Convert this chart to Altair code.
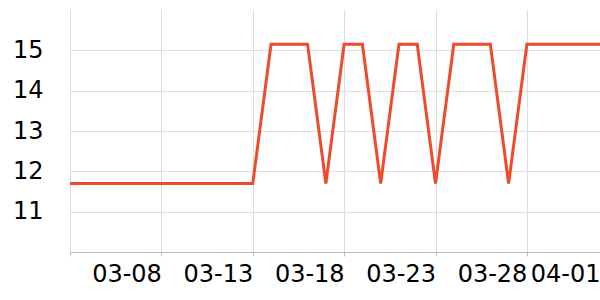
import altair as alt
import pandas as pd

dates = pd.date_range("2020-03-03", "2020-04-01", freq="D").strftime("%Y-%m-%d").tolist()
low, high = 11.7, 15.15
values = [low] * 11 + [high, high, high, low, high, high, low, high, high, low,
                        high, high, high, low] + [high] * 5

tick_dates = ["2020-03-03", "2020-03-08", "2020-03-13", "2020-03-18",
              "2020-03-23", "2020-03-28", "2020-04-01"]
y_ticks = [11, 12, 13, 14, 15]

df = pd.DataFrame({"date": dates, "value": values})

tick_vals = [alt.DateTime(year=int(d[:4]), month=int(d[5:7]), date=int(d[8:]), utc=True) for d in tick_dates]

chart = alt.Chart(df).mark_line(color="#ee4a2c", strokeWidth=3).encode(
    x=alt.X("date:T", scale=alt.Scale(type="utc", domain=[
        alt.DateTime(year=2020, month=3, date=3, utc=True),
        alt.DateTime(year=2020, month=4, date=1, utc=True)], nice=False),
        axis=alt.Axis(values=tick_vals, title=None,
                      labelExpr="utcFormat(datum.value, '%m-%d') == '03-03' ? '' : utcFormat(datum.value, '%m-%d')",
                      labelAlign="right", labelBaseline="top", labelPadding=6,
                      labelFont="DejaVu Sans", labelFontSize=24, labelColor="#000",
                      labelOverlap=False, labelFlush=False,
                      grid=True, gridColor="#dddddd", gridWidth=1,
                      domainColor="#bbbbbb", tickColor="#bbbbbb", tickSize=4)),
    y=alt.Y("value:Q", scale=alt.Scale(domain=[10, 16], nice=False, zero=False),
            axis=alt.Axis(values=y_ticks, title=None, ticks=False, domain=False,
                          labelFont="DejaVu Sans", labelFontSize=24, labelColor="#000",
                          labelPadding=27, gridColor="#dddddd", gridWidth=1)),
).properties(
    width=530, height=242,
    autosize=alt.AutoSizeParams(type="none"),
    padding={"left": 70, "top": 10, "right": 0, "bottom": 48},
).configure_view(stroke=None)

chart.save("out.html", embed_options={"renderer": "svg", "actions": False})
